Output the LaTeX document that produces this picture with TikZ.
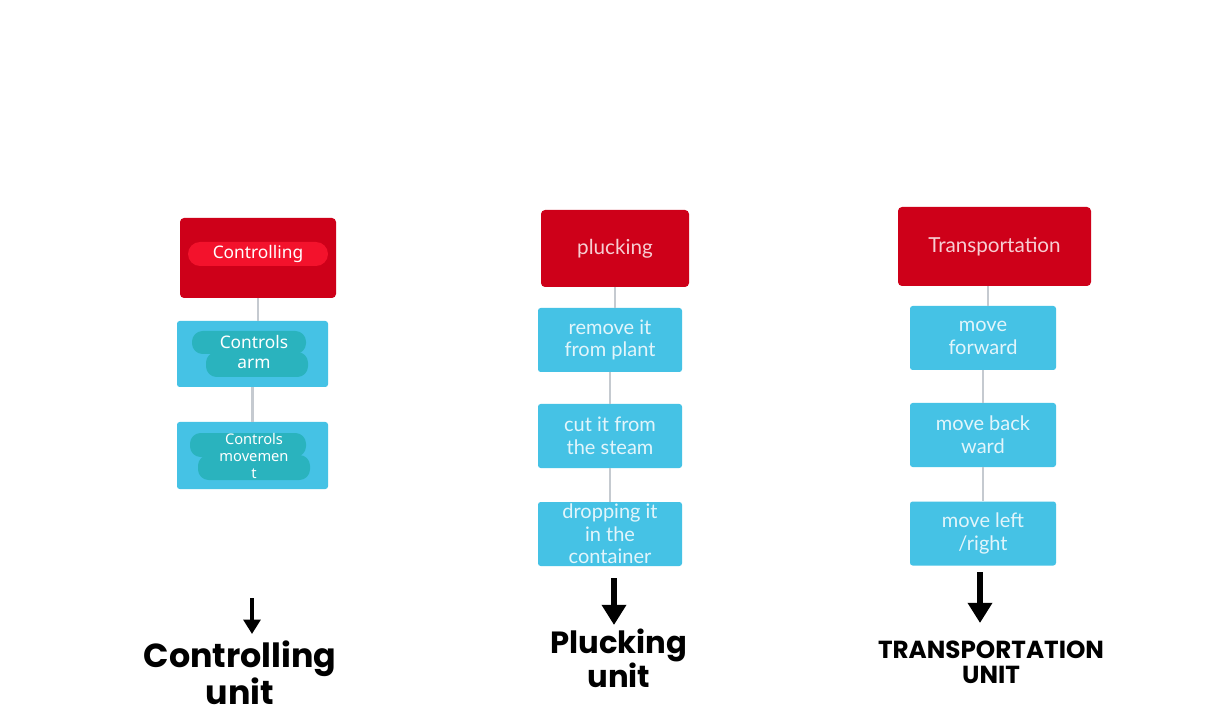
\documentclass[tikz,border=0pt]{standalone}
\usepackage{fontspec}
\setmainfont{Lato}
\newfontfamily\notof{Noto Sans}
\newfontfamily\popf{Poppins}[BoldFont={* Bold}]
\usetikzlibrary{arrows.meta}
\definecolor{boxred}{HTML}{CE0019}
\definecolor{boxblue}{HTML}{45C2E5}
\definecolor{hlred}{HTML}{F3122C}
\definecolor{hlteal}{HTML}{2AB3BE}
\definecolor{conngray}{HTML}{C5CAD0}
\definecolor{bluetext}{HTML}{E2F5FB}
\definecolor{redtext}{HTML}{F7CDD2}
\tikzset{
  redbox/.style={draw=none, fill=boxred, rounded corners=3pt, text=redtext, font=\fontsize{15.5}{17}\selectfont, align=center},
  bluebox/.style={draw=none, fill=boxblue, rounded corners=2pt, text=bluetext, font=\fontsize{15}{17}\selectfont, align=center, inner sep=0pt},
  conn/.style={draw=conngray, line width=2.2pt},
  bigarrow/.style={draw=black, line width=#1, -{Triangle[width=4.2*#1, length=3.6*#1]}},
  unitlabel/.style={align=center, text=black, inner sep=0pt},
}
\begin{document}
\begin{tikzpicture}[x=0.75pt, y=-0.75pt]
\useasboundingbox (0,0) rectangle (1211,720);
\fill[white] (0,0) rectangle (1211,720);

% ---------- column 1 ----------
\node[redbox, minimum width=156*0.75pt, minimum height=80*0.75pt] (r1) at (258,258) {};
\fill[hlred, rounded corners=9pt] (188,242) rectangle (328,266);
\node[text=white, font=\notof\fontsize{13}{16}\selectfont] (t1) at (258,254) {Controlling};
\node[bluebox, minimum width=151*0.75pt, minimum height=66*0.75pt] (b11) at (252.5,354) {};
\fill[hlteal, rounded corners=8pt] (192,331) rectangle (306,354);
\fill[hlteal, rounded corners=8pt] (206,352) rectangle (308,377);
\node[text=white, font=\notof\fontsize{13}{15.5}\selectfont, align=center] (t11) at (254,352) {Controls\\arm};
\node[bluebox, minimum width=151*0.75pt, minimum height=67*0.75pt] (b12) at (252.5,455.5) {};
\fill[hlteal, rounded corners=8pt] (190,433) rectangle (306,457);
\fill[hlteal, rounded corners=8pt] (198,455) rectangle (310,480);
\node[text=white, font=\notof\fontsize{11}{12.8}\selectfont, align=center] (t12) at (254,456) {Controls\\movemen\\t};
\draw[conn] (r1.south) -- (r1.south |- b11.north);
\draw[conn] (b11.south) -- (b12.north);

% ---------- column 2 ----------
\node[redbox, minimum width=148*0.75pt, minimum height=77*0.75pt] (r2) at (615,248.5) {plucking};
\node[bluebox, minimum width=144*0.75pt, minimum height=64*0.75pt] (b21) at (610,340) {remove it\\from plant};
\node[bluebox, minimum width=144*0.75pt, minimum height=64*0.75pt] (b22) at (610,436) {cut it from\\the steam};
\node[bluebox, minimum width=144*0.75pt, minimum height=64*0.75pt] (b23) at (610,534) {dropping it\\in the\\container};
\draw[conn] (r2.south) -- (r2.south |- b21.north);
\draw[conn] (b21.south) -- (b22.north);
\draw[conn] (b22.south) -- (b23.north);

% ---------- column 3 ----------
\node[redbox, minimum width=193*0.75pt, minimum height=79*0.75pt] (r3) at (994.5,246.5) {Transportation};
\node[bluebox, minimum width=146*0.75pt, minimum height=64*0.75pt] (b31) at (983,338) {move\\forward};
\node[bluebox, minimum width=146*0.75pt, minimum height=64*0.75pt] (b32) at (983,435) {move back\\ward};
\node[bluebox, minimum width=146*0.75pt, minimum height=64*0.75pt] (b33) at (983,533.5) {move left\\/right};
\draw[conn] (b31.north -| 988,0) -- (988,286);
\draw[conn] (b31.south) -- (b32.north);
\draw[conn] (b32.south) -- (b33.north);

% ---------- arrows ----------
\coordinate (a1s) at (252,598); \coordinate (a1e) at (252,634);
\coordinate (a2s) at (614,578); \coordinate (a2e) at (614,625);
\coordinate (a3s) at (980,572); \coordinate (a3e) at (980,623);
\draw[bigarrow=3pt] (a1s) -- (a1e);
\draw[bigarrow=4.2pt] (a2s) -- (a2e);
\draw[bigarrow=4.2pt] (a3s) -- (a3e);

% ---------- unit labels ----------
\node[unitlabel, font=\popf\bfseries\fontsize{25}{25}\selectfont] (u1) at (240,673) {Controlling\\unit};
\node[unitlabel, font=\popf\bfseries\fontsize{23}{22.5}\selectfont] (u2) at (619,658) {Plucking\\unit};
\node[unitlabel, font=\popf\bfseries\fontsize{18.5}{18.5}\selectfont] (u3) at (991,662) {TRANSPORTATION\\UNIT};
\end{tikzpicture}
\end{document}
